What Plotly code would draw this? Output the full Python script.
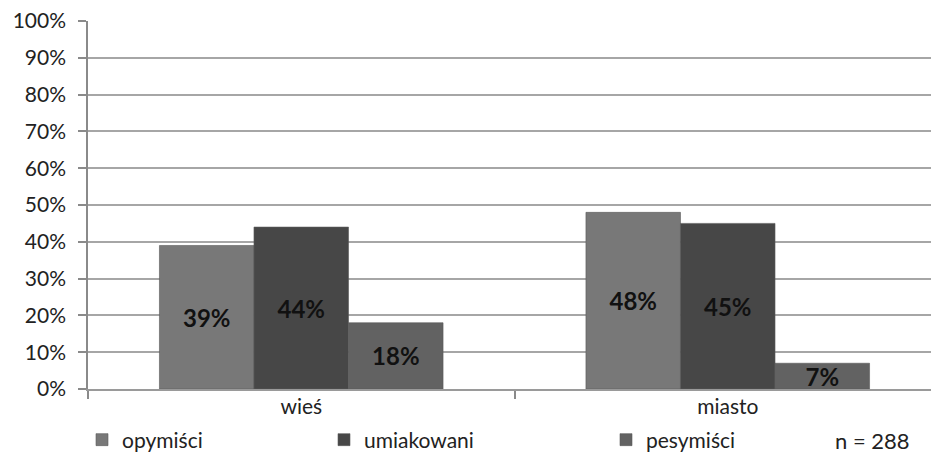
import plotly.graph_objects as go

categories = ["wieś", "miasto"]
series_names = ["opymiści", "umiakowani", "pesymiści"]
opymisci = [39, 48]
umiakowani = [44, 45]
pesymisci = [18, 7]
y_ticks = [0, 10, 20, 30, 40, 50, 60, 70, 80, 90, 100]
y_tick_labels = [f"{v}%" for v in y_ticks]
sample_note = "n = 288"

series_values = [opymisci, umiakowani, pesymisci]
colors = ["#787878", "#474747", "#626262"]
legend_ids = ["legend", "legend2", "legend3"]

W, H = 931, 463
M_L, M_T, M_B = 88, 21, 74
plot_w = W - M_L
plot_h = H - M_T - M_B
cat_px = 426.5

font_family = "Lato, 'Open Sans', sans-serif"

fig = go.Figure()
for name, vals, col, lg in zip(series_names, series_values, colors, legend_ids):
    fig.add_trace(go.Bar(
        x=categories, y=vals, name=name,
        marker=dict(color=col, line=dict(color="#5a5a5a", width=0.6)),
        text=[f"{v}%" for v in vals],
        textposition="inside", insidetextanchor="middle",
        constraintext="none",
        textfont=dict(family=font_family, size=24, color="#111111", weight="bold"),
        legend=lg,
    ))

# legend positions (pixel x of the left edge of each entry)
legend_px = [82, 324, 606]
legend_y = (M_T + plot_h - 440) / plot_h
legend_cfg = {}
for lg, px in zip(legend_ids, legend_px):
    legend_cfg[lg] = dict(
        x=(px - M_L) / plot_w, y=legend_y, xanchor="left", yanchor="middle",
        orientation="h", bgcolor="rgba(0,0,0,0)",
        font=dict(family=font_family, size=21, color="#222222"),
    )

fig.update_layout(
    width=W, height=H,
    margin=dict(l=M_L, r=0, t=M_T, b=M_B),
    paper_bgcolor="white", plot_bgcolor="white",
    barmode="group", bargap=0.335, bargroupgap=0,
    showlegend=True,
    font=dict(family=font_family, color="#222222"),
    **legend_cfg,
)
fig.update_xaxes(
    type="category",
    range=[-0.5, -0.5 + plot_w / cat_px],
    tickson="boundaries", ticks="outside", ticklen=8,
    tickcolor="#8a8a8a", tickwidth=1.5,
    showline=True, linecolor="#9a9a9a", linewidth=2,
    showgrid=False,
    ticklabelstandoff=-2,
    tickfont=dict(family=font_family, size=21, color="#222222"),
)
fig.update_yaxes(
    range=[0, 100],
    tickvals=y_ticks, ticktext=y_tick_labels,
    ticks="outside", ticklen=8, tickcolor="#8a8a8a", tickwidth=1.5,
    showline=True, linecolor="#8a8a8a", linewidth=1.5,
    showgrid=True, gridcolor="#a6a6a6", gridwidth=2,
    zeroline=False,
    ticklabelstandoff=8,
    tickfont=dict(family=font_family, size=21, color="#222222"),
)
fig.add_annotation(
    text=sample_note, xref="paper", yref="paper",
    x=(872 - M_L) / plot_w, y=legend_y, xanchor="center", yanchor="middle",
    showarrow=False, font=dict(family=font_family, size=22, color="#222222"),
)

fig.write_html("out.html")
